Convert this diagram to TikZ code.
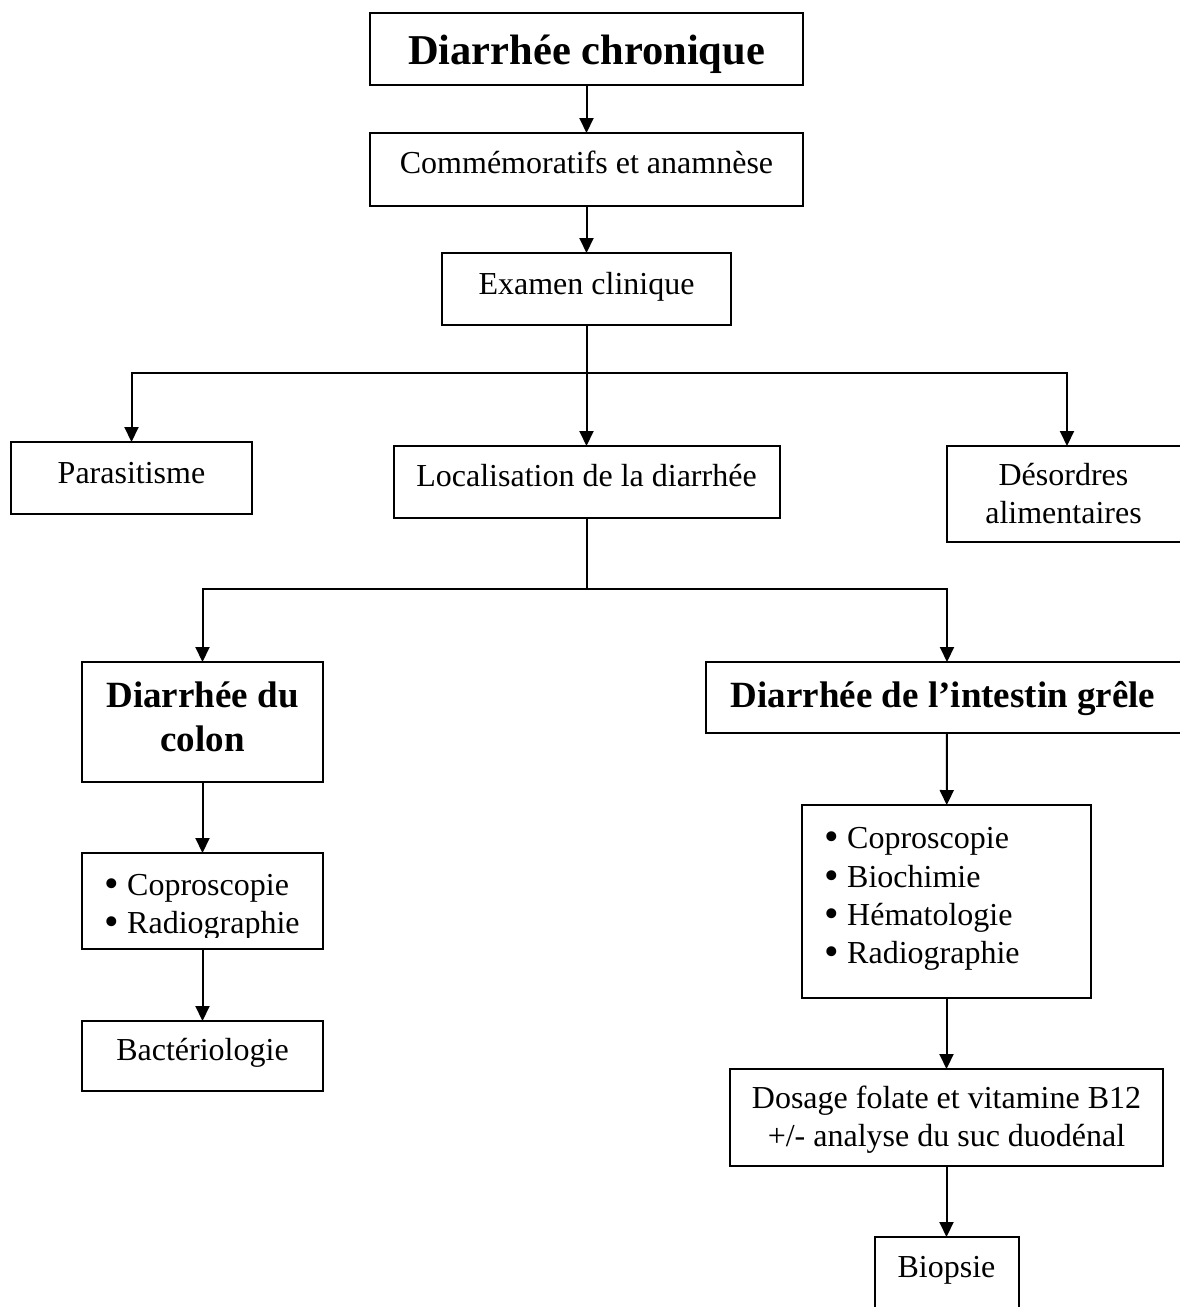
\documentclass[tikz,border=0pt]{standalone}
\usepackage{fontspec}
\setmainfont{Liberation Serif}
\usetikzlibrary{arrows.meta}
% bullet of the examination lists
\newcommand{\listdot}{\makebox[23pt][l]{\raisebox{-2.5pt}{\scalebox{1.3}{\textbullet}}}}
\begin{document}
\begin{tikzpicture}[x=1pt,y=-1pt,
  box/.style={draw, line width=2pt, rectangle, inner sep=0pt, outer sep=0pt},
  lbl/.style={anchor=base, inner sep=0pt, font=\fontsize{32}{38}\selectfont},
  blbl/.style={anchor=base, inner sep=0pt, font=\bfseries\fontsize{37}{44}\selectfont},
  hlbl/.style={anchor=base, inner sep=0pt, font=\bfseries\fontsize{42.5}{50}\selectfont},
  item/.style={anchor=base west, inner sep=0pt, font=\fontsize{32}{38}\selectfont},
  link/.style={line width=2pt, -{Triangle[length=15pt,width=14pt]}},
  plain/.style={line width=2pt}]
\useasboundingbox (0,0) rectangle (1180,1307);

% ---------- boxes ----------
\node[box, minimum width=433pt, minimum height=72pt]  (title)  at (586.5,49)   {};
\node[box, minimum width=433pt, minimum height=73pt]  (comm)   at (586.5,169.5) {};
\node[box, minimum width=289pt, minimum height=72pt]  (exam)   at (586.5,289)  {};
\node[box, minimum width=241pt, minimum height=72pt]  (para)   at (131.5,478)  {};
\node[box, minimum width=386pt, minimum height=72pt]  (loc)    at (586.5,482)  {};
\node[box, minimum width=240pt, minimum height=96pt]  (desord) at (1067,494)   {};
\node[box, minimum width=241pt, minimum height=120pt] (colon)  at (202.5,722)  {};
\node[box, minimum width=482pt, minimum height=71pt]  (grele)  at (947,697.5)  {};
\node[box, minimum width=241pt, minimum height=96pt]  (clist)  at (202.5,901)  {};
\node[box, minimum width=289pt, minimum height=193pt] (glist)  at (946.5,901.5) {};
\node[box, minimum width=241pt, minimum height=70pt]  (bact)   at (202.5,1056) {};
\node[box, minimum width=433pt, minimum height=97pt]  (dosage) at (946.5,1117.5) {};
\node[box, minimum width=144pt, minimum height=110pt] (biopsie) at (946.5,1292) {};

% ---------- labels ----------
\node[hlbl] (tTitle) at (586.5,64) {Diarrhée chronique};
\node[lbl]  (tComm)  at (586.5,173) {Commémoratifs et anamnèse};
\node[lbl]  (tExam)  at (586.5,294) {Examen clinique};
\node[lbl]  (tPara)  at (131.5,483) {Parasitisme};
\node[lbl]  (tLoc)   at (586.5,486) {Localisation de la diarrhée};
\node[lbl]  (tDes1)  at (1063.5,485) {Désordres};
\node[lbl]  (tDes2)  at (1063.5,523) {alimentaires};
\node[blbl] (tCol1)  at (202.5,707) {Diarrhée du};
\node[blbl] (tCol2)  at (202.5,751) {colon};
\node[blbl] (tGre)   at (943,707)   {Diarrhée de l’intestin grêle};

% colon examinations (the last line is cut by the text frame)
\begin{scope}
  \clip (83,854) rectangle (322,937);
  \node[item] (cl1) at (104,895) {\listdot Coproscopie};
  \node[item] (cl2) at (104,933) {\listdot Radiographie};
\end{scope}

% small intestine examinations
\node[item] (gl1) at (824,848) {\listdot Coproscopie};
\node[item] (gl2) at (824,887) {\listdot Biochimie};
\node[item] (gl3) at (824,925) {\listdot Hématologie};
\node[item] (gl4) at (824,963) {\listdot Radiographie};

\node[lbl] (tBact) at (202.5,1060) {Bactériologie};
\node[lbl] (tDos1) at (946.5,1108) {Dosage folate et vitamine B12};
\node[lbl] (tDos2) at (946.5,1146) {+/- analyse du suc duodénal};
\node[lbl] (tBio)  at (946.5,1277) {Biopsie};

% ---------- connectors ----------
\coordinate (j1) at (586.5,373);
\coordinate (j2) at (586.5,589);

\draw[link] (title) -- (comm);
\draw[link] (comm) -- (exam);
\draw[plain] (exam.south) -- (j1);
\draw[link] (j1) -| (para.north);
\draw[link] (j1) -- (loc.north);
\draw[link] (j1) -| (desord.north);

\draw[plain] (loc.south) -- (j2);
\draw[link] (j2) -| (colon.north);
\draw[link] (j2) -| (grele.north);

\draw[link] (colon) -- (clist);
\draw[link] (clist) -- (bact);

\draw[link] (grele) -- (glist);
\draw[link] (glist) -- (dosage);
\draw[link] (dosage) -- (biopsie);
\end{tikzpicture}
\end{document}
